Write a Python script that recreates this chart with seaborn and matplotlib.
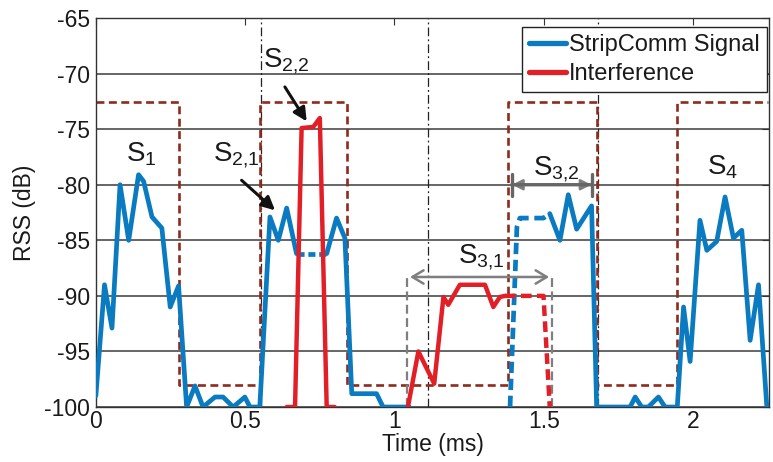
import numpy as np
import matplotlib
matplotlib.use("Agg")
import matplotlib.pyplot as plt
import seaborn as sns

# ---------------- data ----------------
# StripComm signal, solid part S1 .. S2,1
sig_a_t = [0.0, 0.029, 0.054, 0.081, 0.110, 0.143, 0.160, 0.188, 0.221, 0.249, 0.277,
           0.304, 0.332, 0.359, 0.399, 0.426, 0.460, 0.499, 0.516, 0.549,
           0.583, 0.611, 0.639, 0.672]
sig_a_v = [-99.0, -89.0, -92.9, -80.0, -85.0, -79.1, -79.7, -82.9, -83.9, -91.0, -89.1,
           -100.0, -98.1, -100.0, -99.1, -99.1, -100.0, -99.1, -100.0, -100.0,
           -82.9, -85.0, -82.1, -86.2]
# signal hidden under interference S2,2 (dotted)
sig_b_t = [0.672, 0.773]
sig_b_v = [-86.2, -86.2]
# signal after S2
sig_c_t = [0.773, 0.806, 0.834, 0.857, 0.940, 0.962, 1.050]
sig_c_v = [-86.2, -83.0, -84.8, -98.8, -98.8, -100.0, -100.0]
# signal S3,2 dashed part
sig_d_t = [1.387, 1.410, 1.420, 1.499, 1.520]
sig_d_v = [-100.0, -83.8, -83.0, -83.0, -82.6]
# signal S3,2 solid part, gap and S4
sig_e_t = [1.520, 1.554, 1.582, 1.610, 1.660, 1.677, 1.789, 1.806, 1.828, 1.850,
           1.884, 1.906, 1.947, 1.968, 1.990, 2.023, 2.046, 2.079, 2.107, 2.135,
           2.163, 2.191, 2.219, 2.247]
sig_e_v = [-82.6, -85.0, -80.9, -84.0, -81.9, -100.0, -100.0, -99.1, -100.0, -100.0,
           -99.1, -100.0, -100.0, -91.0, -95.9, -83.2, -85.9, -85.1, -81.1, -84.8,
           -84.1, -94.0, -89.0, -100.0]
# interference S2,2
int_a_t = [0.639, 0.667, 0.689, 0.728, 0.750, 0.773, 0.800]
int_a_v = [-100.0, -100.0, -74.9, -74.8, -74.0, -100.0, -100.0]
# interference S3,1 solid
int_b_t = [1.045, 1.080, 1.133, 1.164, 1.180, 1.219, 1.303, 1.331, 1.353, 1.370]
int_b_v = [-100.0, -95.0, -97.9, -90.1, -90.8, -89.0, -89.0, -91.0, -90.1, -90.0]
# interference S3,1 dashed
int_c_t = [1.370, 1.499, 1.520]
int_c_v = [-90.0, -90.0, -100.0]
# slot mask (dashed brown square wave)
mask_edges = [0.0, 0.278, 0.549, 0.840, 1.380, 1.678, 1.946, 2.250]
mask_levels = [-72.6, -98.0, -72.6, -98.0, -72.6, -98.0, -72.6]
# slot boundaries (dash-dot)
slot_bounds = [0.552, 1.113, 1.683]

x_ticks = [0, 0.5, 1, 1.5, 2]
x_ticklabels = ["0", "0.5", "1", "1.5", "2"]
y_ticks = [-100, -95, -90, -85, -80, -75, -70, -65]

# ---------------- styling ----------------
sns.set_theme(style="white")
plt.rcParams["font.family"] = ["Liberation Sans", "DejaVu Sans"]
plt.rcParams["mathtext.fontset"] = "custom"
plt.rcParams["mathtext.rm"] = "Liberation Sans"
plt.rcParams["mathtext.it"] = "Liberation Sans"
plt.rcParams["mathtext.default"] = "regular"
plt.rcParams["axes.unicode_minus"] = False

BLUE = "#0b7bc1"
RED = "#e21f27"
BROWN = "#8e2b1c"
GRAY = "#7f7f7f"
TXT = "#1a1a1a"

fig = plt.figure(figsize=(7.73, 4.62), dpi=100)
ax = fig.add_axes([0.124, 0.119, 0.871, 0.842])

# horizontal grid
ax.set_yticks(y_ticks)
ax.yaxis.grid(True, color="#3c3c3c", lw=1.1)
ax.xaxis.grid(False)
ax.set_axisbelow(True)

# slot boundaries
for b in slot_bounds:
    ax.axvline(b, color="#222222", lw=0.9, linestyle=(0, (7, 2.5, 1.5, 2.5)), zorder=1.5)

# mask square wave
mask_t = np.repeat(mask_edges, 2)[1:-1]
mask_v = np.repeat(mask_levels, 2)
sns.lineplot(x=mask_t, y=mask_v, ax=ax, color=BROWN, lw=1.9, sort=False,
             estimator=None, linestyle=(0, (3.0, 1.7)), zorder=2)

# S3,1 range markers
ax.vlines([1.042, 1.528], -100, -88.1, colors=GRAY, lw=1.6, linestyles=(0, (4, 2)), zorder=2)

# signal
lw_sig = 3.4
sns.lineplot(x=sig_a_t, y=sig_a_v, ax=ax, color=BLUE, lw=lw_sig, sort=False, estimator=None, zorder=3)
sns.lineplot(x=sig_b_t, y=sig_b_v, ax=ax, color=BLUE, lw=lw_sig, sort=False, estimator=None,
             linestyle=(0, (1.5, 0.8)), zorder=3)
sns.lineplot(x=sig_c_t, y=sig_c_v, ax=ax, color=BLUE, lw=lw_sig, sort=False, estimator=None, zorder=3)
sns.lineplot(x=sig_d_t, y=sig_d_v, ax=ax, color=BLUE, lw=lw_sig, sort=False, estimator=None,
             linestyle=(0, (2.4, 1.2)), zorder=3)
sns.lineplot(x=sig_e_t, y=sig_e_v, ax=ax, color=BLUE, lw=lw_sig, sort=False, estimator=None, zorder=3)
blue_handle = ax.lines[-1]

# interference
lw_int = 3.2
sns.lineplot(x=int_a_t, y=int_a_v, ax=ax, color=RED, lw=lw_int, sort=False, estimator=None, zorder=4)
red_handle = ax.lines[-1]
sns.lineplot(x=int_b_t, y=int_b_v, ax=ax, color=RED, lw=lw_int, sort=False, estimator=None, zorder=4)
sns.lineplot(x=int_c_t, y=int_c_v, ax=ax, color=RED, lw=lw_int, sort=False, estimator=None,
             linestyle=(0, (2.4, 1.2)), zorder=4)

# annotations
lab_fs = 20
ax.text(0.100, -77.9, r"S$_{1}$", fontsize=lab_fs, color=TXT, ha="left", va="baseline")
ax.text(0.392, -77.9, r"S$_{2{,}1}$", fontsize=lab_fs, color=TXT, ha="left", va="baseline")
ax.text(0.559, -69.4, r"S$_{2{,}2}$", fontsize=lab_fs, color=TXT, ha="left", va="baseline")
ax.text(1.213, -87.05, r"S$_{3{,}1}$", fontsize=lab_fs, color=TXT, ha="left", va="baseline")
ax.text(1.464, -79.1, r"S$_{3{,}2}$", fontsize=lab_fs, color=TXT, ha="left", va="baseline")
ax.text(2.047, -79.1, r"S$_{4}$", fontsize=lab_fs, color=TXT, ha="left", va="baseline")

ax.annotate("", xy=(0.600, -82.3), xytext=(0.488, -79.6),
            arrowprops=dict(arrowstyle="-|>", color="#111111", lw=2.2, mutation_scale=20, shrinkA=0, shrinkB=0))
ax.annotate("", xy=(0.706, -74.3), xytext=(0.633, -71.2),
            arrowprops=dict(arrowstyle="-|>", color="#111111", lw=2.2, mutation_scale=20, shrinkA=0, shrinkB=0))
ax.annotate("", xy=(1.518, -88.3), xytext=(1.052, -88.3),
            arrowprops=dict(arrowstyle="<->,head_length=0.5,head_width=0.3", color=GRAY, lw=1.8,
                            mutation_scale=16, shrinkA=0, shrinkB=0))
ax.annotate("", xy=(1.660, -80.0), xytext=(1.393, -80.0),
            arrowprops=dict(arrowstyle="<|-|>", color=GRAY, lw=1.8, mutation_scale=16, shrinkA=0, shrinkB=0))
ax.annotate("", xy=(1.660, -80.0), xytext=(1.393, -80.0),
            arrowprops=dict(arrowstyle="|-|", color="#666666", lw=2.4, mutation_scale=8, shrinkA=0, shrinkB=0))

# axes
ax.set_xlim(0, 2.2546)
ax.set_ylim(-100, -65)
ax.set_xticks(x_ticks)
ax.set_xticklabels(x_ticklabels)
ax.set_yticklabels([str(v) for v in y_ticks])
ax.tick_params(direction="in", top=True, right=True, length=5, width=0.8,
               labelsize=16.5, labelcolor=TXT, color="#333333")
ax.tick_params(axis="x", pad=2)
ax.tick_params(axis="y", pad=4)
for s in ax.spines.values():
    s.set_color("#333333")
    s.set_linewidth(1.0)
ax.set_xlabel("Time (ms)", fontsize=16.5, color=TXT, labelpad=0)
ax.set_ylabel("RSS (dB)", fontsize=16.5, color=TXT, labelpad=6)

leg = ax.legend(handles=[blue_handle, red_handle], labels=["StripComm Signal", "Interference"],
                loc="upper right", bbox_to_anchor=(0.997, 0.977), borderaxespad=0,
                fontsize=17, frameon=True, fancybox=False, framealpha=1,
                handlelength=1.55, handletextpad=0.15, borderpad=0.3, labelspacing=0.3)
leg.get_frame().set_edgecolor("#222222")
leg.get_frame().set_linewidth(1.0)
for h in leg.get_lines():
    h.set_linewidth(3.8)
    h.set_linestyle("-")
for t in leg.get_texts():
    t.set_color(TXT)

fig.savefig("out.png", dpi=100)
